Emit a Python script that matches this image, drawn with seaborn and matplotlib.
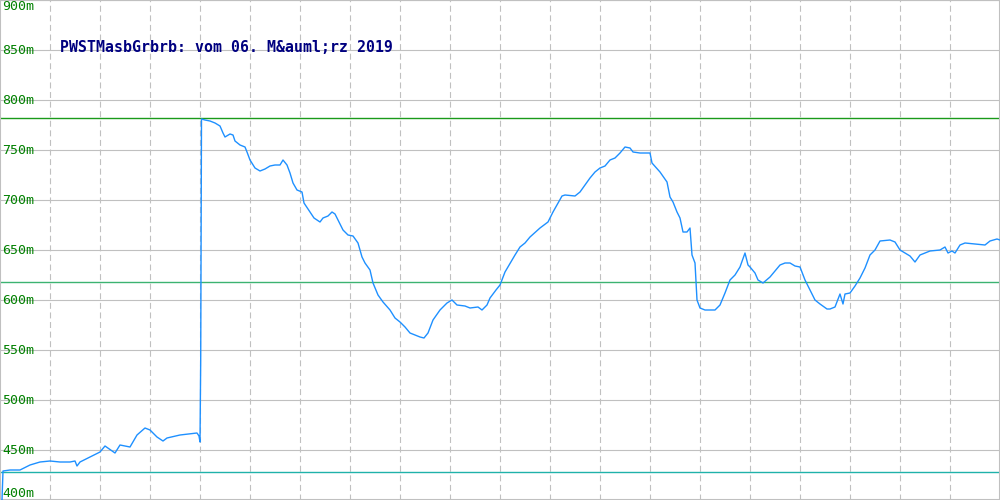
import matplotlib
matplotlib.use("Agg")
import matplotlib.pyplot as plt
import matplotlib.transforms as mtransforms
import numpy as np
import pandas as pd
import seaborn as sns

# Messwerte (x = Zeitachse in Pixel-Schritten, y in m-Einheiten)
t = [2, 3, 10, 20, 30, 40, 50, 60, 70, 75, 77, 80, 90, 100, 105, 115, 120, 130, 137, 145,
     150, 157, 163, 167, 180, 197, 199, 200, 200.7, 201.5, 205, 210, 215, 220, 223, 225, 230,
     233, 235, 240, 245, 247, 250, 255, 260, 265, 270, 275, 280, 283, 287, 290, 293, 297, 302,
     304, 310, 314, 320, 323, 328, 332, 335, 338, 343, 348, 353, 358, 362, 365, 370, 373, 378,
     383, 390, 395, 400, 405, 410, 415, 420, 424, 428, 433, 440, 447, 452, 457, 465, 470, 478,
     482, 487, 490, 496, 500, 505, 515, 520, 525, 530, 540, 548, 553, 558, 562, 565, 575, 580,
     585, 590, 595, 600, 605, 610, 615, 620, 625, 630, 633, 640, 650, 652, 660, 667, 670, 673,
     677, 680, 683, 687, 690, 692, 695, 697, 700, 705, 715, 720, 725, 730, 735, 740, 745, 748,
     750, 755, 758, 763, 770, 780, 785, 790, 795, 800, 805, 810, 815, 820, 827, 830, 835, 840,
     843, 845, 850, 855, 860, 865, 870, 875, 880, 890, 895, 900, 905, 910, 915, 920, 930, 940,
     945, 948, 952, 955, 960, 965, 975, 985, 990, 997, 1000]
wert = [400, 429, 430, 430, 435, 438, 439, 438, 438, 439, 434, 438, 443, 448, 454, 447, 455, 453, 465, 472,
        470, 463, 459, 462, 465, 467, 464, 458, 540, 781, 780, 779, 777, 774, 767, 763, 766,
        765, 759, 755, 753, 748, 740, 732, 729, 731, 734, 735, 735, 740, 735, 727, 717, 710, 708,
        697, 688, 682, 678, 682, 684, 688, 686, 680, 670, 665, 664, 657, 643, 637, 630, 617, 605,
        598, 590, 582, 578, 573, 567, 565, 563, 562, 567, 580, 590, 597, 600, 595, 594, 592, 593,
        590, 595, 602, 610, 615, 628, 645, 653, 657, 663, 672, 678, 688, 697, 704, 705, 704, 708,
        715, 722, 728, 732, 734, 740, 742, 747, 753, 752, 748, 747, 747, 737, 728, 718, 703, 698,
        688, 682, 668, 668, 672, 645, 637, 600, 592, 590, 590, 595, 607, 620, 625, 633, 647, 635,
        633, 627, 620, 617, 623, 635, 637, 637, 634, 633, 620, 610, 600, 596, 591, 591, 593, 606,
        596, 606, 607, 614, 622, 632, 645, 650, 659, 660, 658, 650, 647, 644, 638, 645, 649, 650,
        653, 647, 649, 647, 655, 657, 656, 655, 659, 661, 660]

# Grenzlinien
grenzen = [782, 618, 428]
grenz_farben = ["#1a9a1a", "#3cb371", "#20b2aa"]

y_ticks = [400, 450, 500, 550, 600, 650, 700, 750, 800, 850, 900]
titel = "PWSTMasbGrbrb: vom 06. M&auml;rz 2019"

sns.set_style("white")
plt.rcParams["lines.scale_dashes"] = False

df = pd.DataFrame({"t": t, "wert": wert})

fig = plt.figure(figsize=(10, 5), dpi=100)
ax = fig.add_axes([0, 0, 1, 1])

# Gitter
for y in y_ticks:
    ax.axhline(y, color="#c0c0c0", lw=0.8, zorder=1)
for x in range(50, 1000, 50):
    ax.axvline(x, color="#c0c0c0", lw=0.8, dashes=(4.3, 2.6), zorder=1)

for g, c in zip(grenzen, grenz_farben):
    ax.axhline(g, color=c, lw=1.0, zorder=2)

sns.lineplot(data=df, x="t", y="wert", color="#1e90ff", lw=1.0, estimator=None,
             sort=False, ax=ax, zorder=3)

ax.set_xlim(0, 1000)
ax.set_ylim(400, 900)
ax.set_xticks([])
ax.set_yticks([])
ax.set_xlabel("")
ax.set_ylabel("")
for s in ax.spines.values():
    s.set_color("#c0c0c0")
    s.set_linewidth(1.5)

trans = mtransforms.blended_transform_factory(ax.transAxes, ax.transData)
for y in y_ticks:
    va = "center"
    if y == 900:
        va = "top"
    elif y == 400:
        va = "bottom"
    ax.text(0.002, y, f"{y}m", transform=trans, color="#008000", fontsize=9.5,
            family="DejaVu Sans Mono", va=va, ha="left", zorder=4)

ax.text(0.06, 852, titel, transform=trans, color="#000080", fontsize=10.7,
        family="DejaVu Sans Mono", fontweight="bold", va="center", ha="left", zorder=4)

fig.savefig("out.png", dpi=100)
